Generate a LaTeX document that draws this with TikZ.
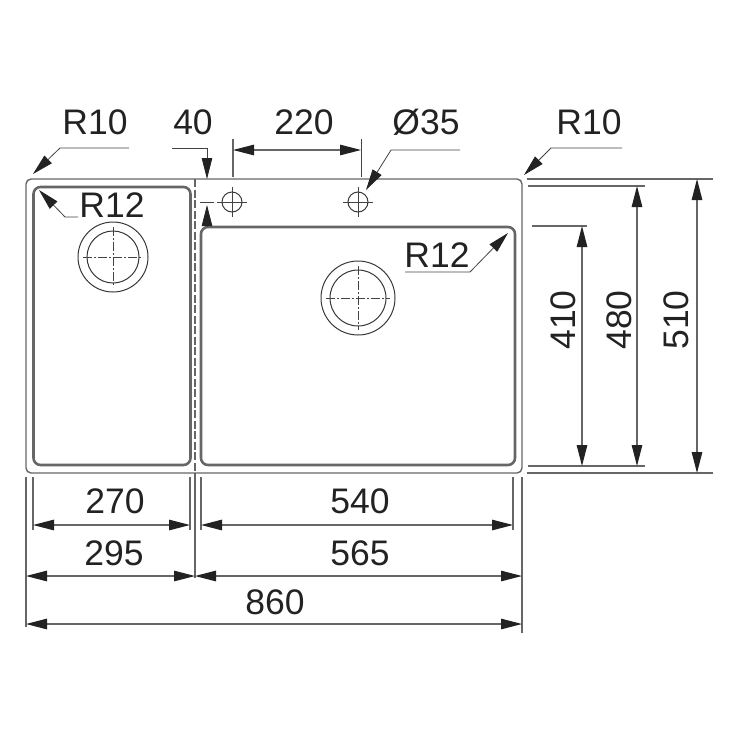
\documentclass[tikz,border=0pt]{standalone}
\usepackage{fontspec}
\setmainfont{Liberation Sans}
\usetikzlibrary{arrows.meta}
\definecolor{ink}{HTML}{222222}
\definecolor{wire}{HTML}{666666}
\tikzset{
  x=1pt,y=-1pt,
  tipblock/.tip={Triangle[length=21pt,width=10.5pt,color=ink]},
  dimline/.style={draw=wire,line width=1.2pt},
  extline/.style={draw=wire,line width=1.2pt},
  dimboth/.style={dimline,{tipblock}-{tipblock}},
  lead/.style={draw=ink!85,line width=0.8pt,-{tipblock}},
  rim/.style={draw=wire,line width=1.4pt,rounded corners=5pt},
  bowl/.style={draw=wire,line width=2.6pt,rounded corners=7pt},
  hole/.style={draw=ink!90,line width=1pt},
  axis/.style={draw=ink!85,line width=0.8pt},
  drainaxis/.style={draw=ink!85,line width=0.7pt,dash pattern=on 9pt off 2pt on 2pt off 2pt},
  lbl/.style={text=ink,font=\fontsize{35.5}{36}\selectfont,inner sep=0pt},
}
\begin{document}
\begin{tikzpicture}
\useasboundingbox (0,0) rectangle (750,750);
% outline
\draw[rim] (26,179) rectangle (522,473);
\draw[bowl] (33.5,187) rectangle (190.5,465);
\draw[bowl] (201,227) rectangle (515,465);
\draw[wire,line width=1.2pt,dash pattern=on 8pt off 2.5pt] (195,179) -- (195,473);
% drains
\foreach \cx/\cy/\ro/\ri in {113/257/35/26,358/298/37/28}{
  \draw[hole] (\cx,\cy) circle[radius=\ro];
  \draw[hole] (\cx,\cy) circle[radius=\ri];
  \draw[drainaxis] (\cx-\ri-4,\cy) -- (\cx+\ri+4,\cy);
  \draw[drainaxis] (\cx,\cy-\ri-4) -- (\cx,\cy+\ri+4);
}
% tap holes
\foreach \cx in {232,358}{
  \draw[hole] (\cx,202) circle[radius=10];
  \draw[axis] (\cx-15,202) -- (\cx+15,202);
  \draw[axis] (\cx,187) -- (\cx,217);
}
% top dims
\coordinate (a1) at (129,148); \coordinate (a2) at (60,148); \coordinate (a3) at (33,174);
\draw[lead] (a1) -- (a2) -- (a3);
\coordinate (b1) at (172,148); \coordinate (b2) at (207,148); \coordinate (b3) at (207,179);
\draw[lead] (b1) -- (b2) -- (b3);
\coordinate (b4) at (207,227); \coordinate (b5) at (207,205);
\draw[lead] (b4) -- (b5);
\draw[axis] (200,202) -- (214,202);
\draw[extline] (233,139) -- (233,177);
\draw[draw=ink!85,line width=0.8pt] (361,139) -- (361,177);
\coordinate (c1) at (233,150); \coordinate (c2) at (361,150);
\draw[dimboth] (c1) -- (c2);
\coordinate (d1) at (460,150); \coordinate (d2) at (391,150); \coordinate (d3) at (366,190);
\draw[lead] (d1) -- (d2) -- (d3);
\coordinate (e1) at (622,148); \coordinate (e2) at (551,148); \coordinate (e3) at (524,175);
\draw[lead] (e1) -- (e2) -- (e3);
\coordinate (f1) at (78,217); \coordinate (f2) at (65,217); \coordinate (f3) at (39,190);
\draw[lead] (f1) -- (f2) -- (f3);
\coordinate (g1) at (405,272); \coordinate (g2) at (470,272); \coordinate (g3) at (508,233);
\draw[lead] (g1) -- (g2) -- (g3);
% right dims
\draw[extline] (527,179) -- (713,179);
\draw[extline] (527,473) -- (713,473);
\draw[extline] (528,186) -- (645,186);
\draw[extline] (528,466) -- (645,466);
\draw[extline] (532,226) -- (587,226);
\coordinate (h1) at (582,226); \coordinate (h2) at (582,466);
\draw[dimboth] (h1) -- (h2);
\coordinate (i1) at (637,186); \coordinate (i2) at (637,466);
\draw[dimboth] (i1) -- (i2);
\coordinate (j1) at (697,179); \coordinate (j2) at (697,473);
\draw[dimboth] (j1) -- (j2);
% bottom dims
\draw[extline] (26,477) -- (26,627);
\draw[extline] (33,477) -- (33,530);
\draw[extline] (190,477) -- (190,530);
\draw[extline] (201,477) -- (201,530);
\draw[extline] (513,477) -- (513,530);
\draw[extline] (195,473) -- (195,578);
\draw[extline] (522,477) -- (522,633);
\coordinate (k1) at (33,525); \coordinate (k2) at (190,525);
\draw[dimboth] (k1) -- (k2);
\coordinate (l1) at (201,525); \coordinate (l2) at (513,525);
\draw[dimboth] (l1) -- (l2);
\coordinate (m1) at (26,576); \coordinate (m2) at (195,576);
\draw[dimboth] (m1) -- (m2);
\coordinate (n1) at (195,576); \coordinate (n2) at (522,576);
\draw[dimboth] (n1) -- (n2);
\coordinate (o1) at (26,624); \coordinate (o2) at (522,624);
\draw[dimboth] (o1) -- (o2);
% labels
\node[lbl] (tR1) at (95,122) {R10};
\node[lbl] (t40) at (193,122) {40};
\node[lbl] (t220) at (304,122) {220};
\node[lbl] (tD) at (426,122) {Ø35};
\node[lbl] (tR2) at (589,122) {R10};
\node[lbl] (tR3) at (112,205) {R12};
\node[lbl] (tR4) at (437,255) {R12};
\node[lbl,rotate=90] (t410) at (563,320) {410};
\node[lbl,rotate=90] (t480) at (619,320) {480};
\node[lbl,rotate=90] (t510) at (676,320) {510};
\node[lbl] (t270) at (115,501) {270};
\node[lbl] (t540) at (360,501) {540};
\node[lbl] (t295) at (114,553) {295};
\node[lbl] (t565) at (360,553) {565};
\node[lbl] (t860) at (275,602) {860};
\end{tikzpicture}
\end{document}
